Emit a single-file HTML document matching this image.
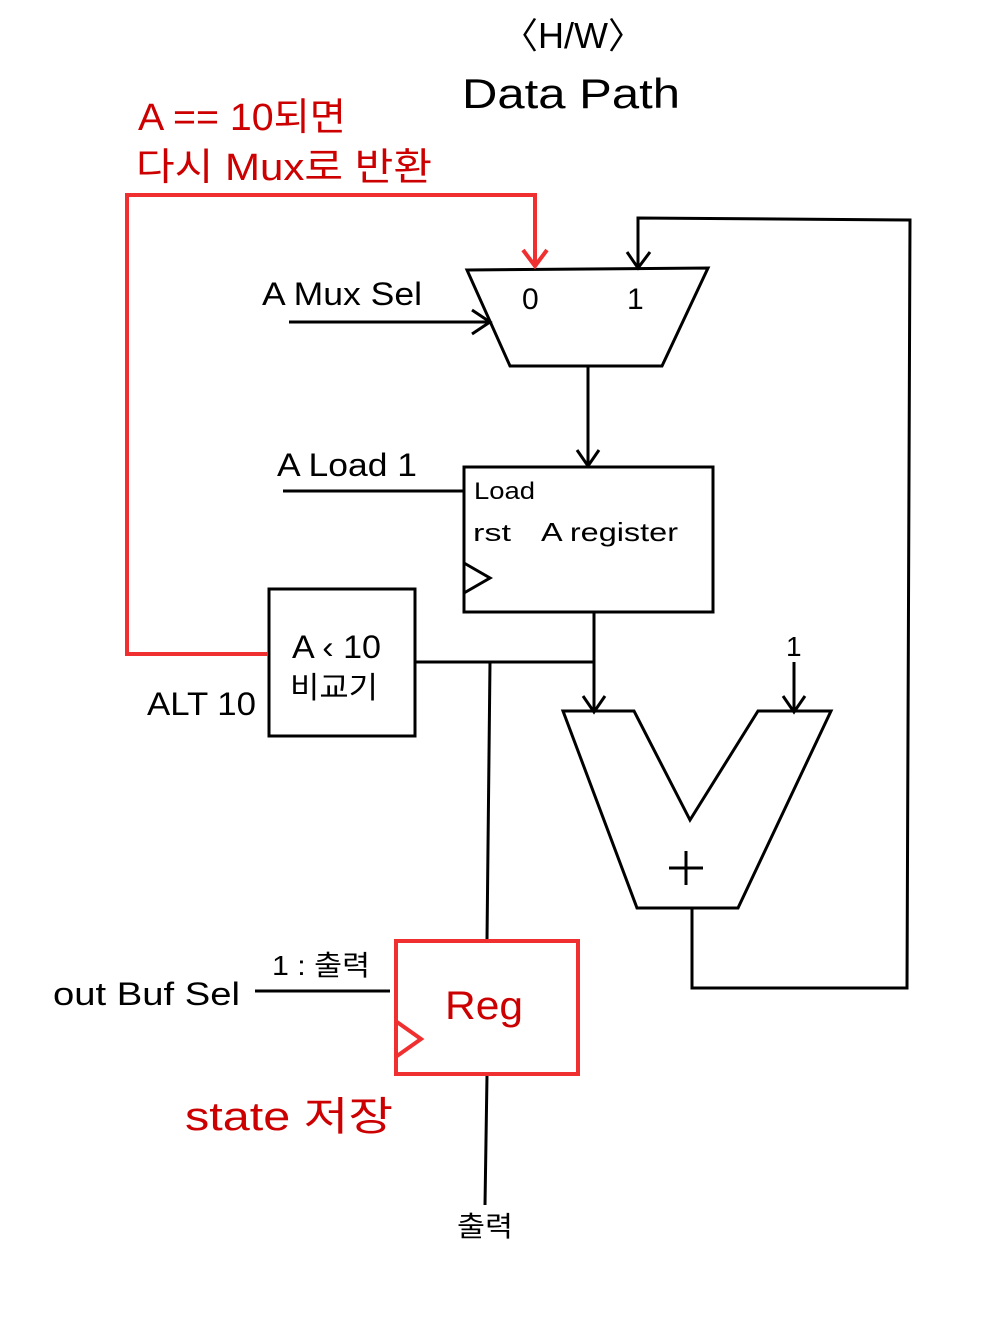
<!DOCTYPE html>
<html><head><meta charset="utf-8"><style>
html,body{margin:0;padding:0;background:#fff;}
svg{display:block;}
text{font-family:"Liberation Sans","Noto Sans CJK KR",sans-serif;}
</style></head><body>
<svg width="990" height="1324" viewBox="0 0 990 1324" xmlns="http://www.w3.org/2000/svg">
<g fill="none" stroke="#000" stroke-width="3" stroke-linejoin="miter">
<polygon points="467,270 708,268 662,366 510,366"/>
<polyline points="692,908 692,988 907,988 910,220 638,218 638,268"/>
<polyline points="627,252 638,268 650,252"/>
<line x1="289" y1="322" x2="490" y2="322"/>
<polyline points="472,310 490,322 472,334"/>
<line x1="588" y1="366" x2="588" y2="466"/>
<polyline points="577,450 588,466 599,450"/>
<rect x="464" y="467" width="249" height="145"/>
<polyline points="464,563 490,578 464,593"/>
<line x1="283" y1="491" x2="464" y2="491"/>
<rect x="269" y="589" width="146" height="147"/>
<line x1="415" y1="662" x2="594" y2="662"/>
<line x1="594" y1="612" x2="594" y2="712"/>
<polyline points="583,696 594,712 605,696"/>
<line x1="490" y1="662" x2="487" y2="940"/>
<polygon points="563,711 634,711 690,820 758,711 831,711 738,908 637,908"/>
<line x1="794" y1="662" x2="794" y2="712"/>
<polyline points="783,696 794,712 805,696"/>
<line x1="669" y1="868" x2="703" y2="868"/>
<line x1="686" y1="851" x2="686" y2="885"/>
<line x1="255" y1="991" x2="390" y2="991"/>
<line x1="487" y1="1075" x2="485" y2="1205"/>
</g>
<g fill="none" stroke="#f03030" stroke-width="4">
<polyline points="268,654 127,654 127,195 535,195 535,266"/>
<polyline points="523,250 535,266 547,250"/>
<rect x="396" y="941" width="182" height="133"/>
<polyline points="397,1022 421,1039 397,1056"/>
</g>
<g fill="#000">
<text x="573" y="48" font-size="36" text-anchor="middle">〈H/W〉</text>
<text x="462" y="108" font-size="42" textLength="218" lengthAdjust="spacingAndGlyphs">Data Path</text>
<text x="262" y="305" font-size="32" textLength="160" lengthAdjust="spacingAndGlyphs">A Mux Sel</text>
<text x="522" y="309" font-size="30">0</text>
<text x="627" y="309" font-size="30">1</text>
<text x="277" y="476" font-size="32" textLength="140" lengthAdjust="spacingAndGlyphs">A Load 1</text>
<text x="474" y="499" font-size="24" textLength="61" lengthAdjust="spacingAndGlyphs">Load</text>
<text x="473" y="541" font-size="24" textLength="38" lengthAdjust="spacingAndGlyphs">rst</text>
<text x="541" y="541" font-size="26" textLength="137" lengthAdjust="spacingAndGlyphs">A register</text>
<text x="292" y="658" font-size="32" textLength="89" lengthAdjust="spacingAndGlyphs">A ‹ 10</text>
<text x="290" y="698" font-size="30" textLength="88" lengthAdjust="spacingAndGlyphs">비교기</text>
<text x="147" y="715" font-size="32" textLength="109" lengthAdjust="spacingAndGlyphs">ALT 10</text>
<text x="786" y="656" font-size="28">1</text>
<text x="53" y="1005" font-size="32" textLength="187" lengthAdjust="spacingAndGlyphs">out Buf Sel</text>
<text x="272" y="975" font-size="28" textLength="98" lengthAdjust="spacingAndGlyphs">1 : 출력</text>
<text x="457" y="1236" font-size="28" textLength="56" lengthAdjust="spacingAndGlyphs">출력</text>
</g>
<g fill="#cc0000">
<text x="138" y="130" font-size="38" textLength="208" lengthAdjust="spacingAndGlyphs">A == 10되면</text>
<text x="136" y="180" font-size="38" textLength="296" lengthAdjust="spacingAndGlyphs">다시 Mux로 반환</text>
<text x="445" y="1019" font-size="40" textLength="78" lengthAdjust="spacingAndGlyphs">Reg</text>
<text x="185" y="1130" font-size="40" textLength="208" lengthAdjust="spacingAndGlyphs">state 저장</text>
</g>
</svg>
</body></html>
